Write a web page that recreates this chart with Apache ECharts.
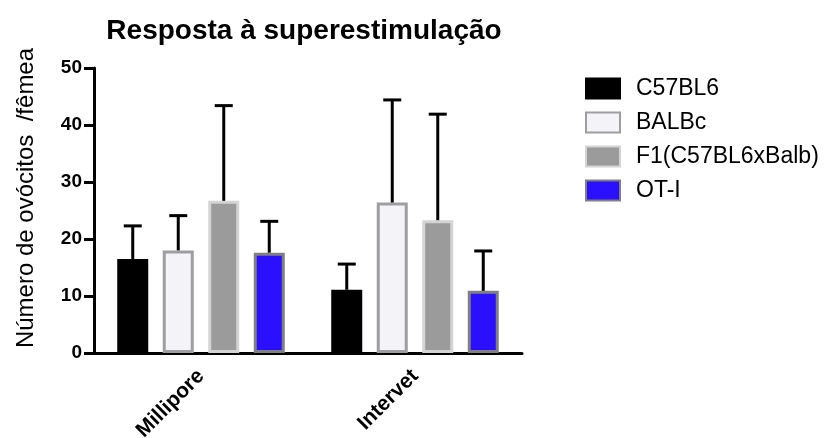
<!DOCTYPE html>
<html>
<head>
<meta charset="utf-8">
<script src="https://cdn.jsdelivr.net/npm/echarts@6/dist/echarts.min.js"></script>
<style>html,body{margin:0;padding:0;background:#fff;}#c{width:824px;height:438px;}</style>
</head>
<body>
<div id="c"></div>
<script>
// ---- data ----
const categories = ['Millipore', 'Intervet'];
const seriesNames = ['C57BL6', 'BALBc', 'F1(C57BL6xBalb)', 'OT-I'];
const meanC57BL6 = [16.5, 11.1];
const meanBALBc = [18.0, 26.4];
const meanF1 = [26.7, 23.3];
const meanOTI = [17.6, 10.9];
const sdC57BL6 = [5.8, 4.5];
const sdBALBc = [6.1, 18.0];
const sdF1 = [16.7, 18.6];
const sdOTI = [5.5, 7.0];
const yTicks = [0, 10, 20, 30, 40, 50];

const means = [meanC57BL6, meanBALBc, meanF1, meanOTI];
const sds = [sdC57BL6, sdBALBc, sdF1, sdOTI];

const fills = ['#000000', '#f3f3f8', '#9b9b9b', '#2a10ff'];
const borders = ['#000000', '#9e9ea2', '#d4d4d4', '#808080'];

const FONT = '"Liberation Sans", Arial, Helvetica, sans-serif';
const BAR_W = 31;
const STEP = 45.5;

const chart = echarts.init(document.getElementById('c'));

const series = [];
seriesNames.forEach((name, i) => {
  series.push({
    name: name,
    type: 'bar',
    data: means[i],
    barWidth: BAR_W,
    barGap: ((STEP - BAR_W) / BAR_W * 100).toFixed(1) + '%',
    itemStyle: { color: fills[i], borderColor: borders[i], borderWidth: 3 },
    emphasis: { disabled: true },
    z: 2
  });
});
seriesNames.forEach((name, i) => {
  series.push({
    name: name + '_err',
    type: 'custom',
    data: means[i].map((m, k) => [k, m, m + sds[i][k]]),
    encode: { x: 0, y: [1, 2] },
    z: 3,
    silent: true,
    renderItem: function (params, api) {
      const k = api.value(0);
      const base = api.coord([k, api.value(1)]);
      const top = api.coord([k, api.value(2)]);
      const x = base[0] + (i - 1.5) * STEP;
      const half = 9;
      return {
        type: 'group',
        children: [
          { type: 'line', shape: { x1: x, y1: base[1], x2: x, y2: top[1] }, style: { stroke: '#000', lineWidth: 3 } },
          { type: 'line', shape: { x1: x - half, y1: top[1], x2: x + half, y2: top[1] }, style: { stroke: '#000', lineWidth: 3 } }
        ]
      };
    }
  });
});

chart.setOption({
  animation: false,
  backgroundColor: '#ffffff',
  title: {
    text: 'Resposta à superestimulação',
    left: 299, top: 12, textAlign: 'center',
    textStyle: { fontFamily: FONT, fontWeight: 'bold', fontSize: 28, color: '#000' }
  },
  legend: {
    data: seriesNames,
    orient: 'vertical',
    left: 580, top: 72,
    itemWidth: 34, itemHeight: 20,
    itemGap: 11,
    icon: 'rect',
    textStyle: { fontFamily: FONT, fontSize: 23, color: '#000', padding: [0, 0, 0, 11] },
    selectedMode: false
  },
  grid: { left: 94, top: 68, width: 428, height: 285, containLabel: false, outerBoundsMode: 'none' },
  xAxis: {
    type: 'category',
    data: categories,
    axisLine: { lineStyle: { color: '#000', width: 3 } },
    axisTick: { alignWithLabel: true, length: 10, lineStyle: { color: '#000', width: 3 } },
    axisLabel: { rotate: 45, margin: 20, fontFamily: FONT, fontWeight: 'bold', fontSize: 21, color: '#000' },
    splitLine: { show: false }
  },
  yAxis: {
    type: 'value',
    min: yTicks[0], max: yTicks[yTicks.length - 1], interval: yTicks[1] - yTicks[0],
    axisLine: { show: true, lineStyle: { color: '#000', width: 3 } },
    axisTick: { show: true, length: 10, lineStyle: { color: '#000', width: 3 } },
    axisLabel: { margin: 12, fontFamily: FONT, fontWeight: 'bold', fontSize: 19, color: '#000' },
    splitLine: { show: false }
  },
  graphic: [{
    type: 'text',
    x: 26, y: 198,
    rotation: Math.PI / 2,
    style: {
      text: 'Número de ovócitos  /fêmea',
      fontFamily: FONT, fontSize: 24, fill: '#000',
      align: 'center', verticalAlign: 'middle'
    }
  }],
  series: series
});
</script>
</body>
</html>
